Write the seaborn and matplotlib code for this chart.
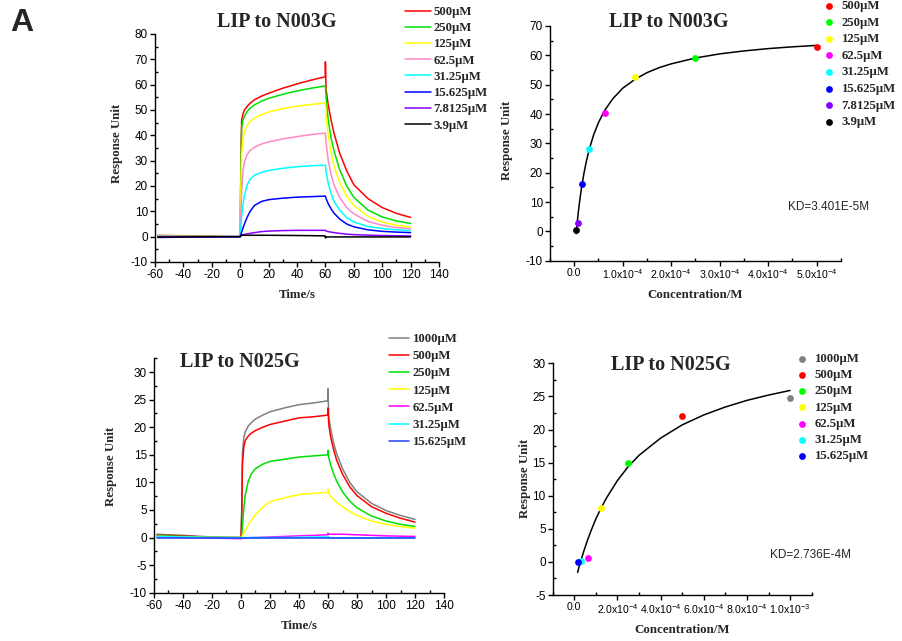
import numpy as np
import pandas as pd
import matplotlib
matplotlib.use("Agg")
import matplotlib.pyplot as plt
import seaborn as sns
from matplotlib.ticker import MultipleLocator

# ---------------- data ----------------
# sensorgram time grid (s)
time_s = [-58, -40, -20, -1, 0, 0.5, 1, 2, 3, 5, 7, 10, 15, 20, 30, 40, 50,
          59.9, 60, 60.5, 62, 64, 66, 70, 75, 80, 90, 100, 110, 120]

# LIP to N003G sensorgram
n003_labels = ['500µM', '250µM', '125µM', '62.5µM', '31.25µM', '15.625µM', '7.8125µM', '3.9µM']
n003_colors = ['#ff0000', '#00e000', '#ffff00', '#ff88c8', '#00ffff', '#0000ff', '#8800ff', '#000000']
n003_500 = [0.5, 0.35, 0.1, 0, 0, 30, 46, 48.5, 50, 51.5, 52.7, 54, 55.5, 56.6, 58.6, 60.3, 61.8,
            63.1, 69, 58, 52, 46, 41, 33, 26, 20.5, 15, 11.5, 9.2, 7.6]
n003_250 = [0.3, 0.2, 0.05, 0, 0, 25, 43, 46, 47.5, 49.5, 50.7, 52, 53.5, 54.6, 56.2, 57.5, 58.6,
            59.5, 59.5, 55, 46, 39, 34, 26.5, 20, 15.5, 10.5, 7.8, 6.2, 5.2]
n003_125 = [0.2, 0.1, 0, 0, 0, 20, 33, 39, 41.5, 44, 45.5, 46.8, 48.2, 49.2, 50.6, 51.5, 52.2,
            52.8, 52.8, 48, 40, 33, 28, 21.5, 16, 12.3, 8, 5.8, 4.5, 3.7]
n003_62 = [0.1, 0.1, 0, 0, 0, 10, 18, 26, 29.5, 32.5, 34, 35.3, 36.6, 37.4, 38.6, 39.5, 40.3,
           40.9, 40.9, 37, 30, 24.5, 20.5, 15.5, 11.5, 9, 6, 4.5, 3.6, 3.1]
n003_31 = [0.1, 0, 0, 0, 0, 4, 8, 13, 16.5, 20.5, 22.7, 24.2, 25.4, 26.1, 27, 27.6, 28,
           28.2, 28.2, 25.5, 21, 17, 14, 10.5, 7.5, 5.8, 4, 3.2, 2.7, 2.4]
n003_15 = [-0.3, -0.2, -0.1, 0, 0, 0.8, 1.8, 3.5, 5, 7.8, 10, 12.3, 13.9, 14.6, 15.2, 15.6, 15.8,
           16, 16, 15, 13, 11, 9.3, 7, 5, 3.9, 2.7, 2.1, 1.8, 1.6]
n003_7 = [0, 0, 0, 0, 0, 0.6, 0.7, 0.8, 0.9, 1.1, 1.3, 1.6, 2.0, 2.2, 2.4, 2.5, 2.5,
          2.5, 2.5, 2.2, 2.0, 1.8, 1.6, 1.3, 1.0, 0.8, 0.6, 0.45, 0.35, 0.3]
n003_3 = [-0.2, -0.1, 0, 0, 0, 0.5, 0.5, 0.55, 0.55, 0.55, 0.55, 0.55, 0.55, 0.55, 0.5, 0.45, 0.4,
          0.3, -0.5, -0.1, -0.1, -0.1, -0.1, -0.1, -0.1, -0.1, -0.1, -0.1, -0.1, -0.1]

# LIP to N025G sensorgram
n025_labels = ['1000µM', '500µM', '250µM', '125µM', '62.5µM', '31.25µM', '15.625µM']
n025_colors = ['#808080', '#ff0000', '#00e000', '#ffff00', '#ff00ff', '#00ffff', '#2040ff']
n025_1000 = [0.6, 0.4, 0.1, 0, 0, 5, 15.5, 18.2, 19.2, 20.2, 20.8, 21.5, 22.2, 22.8, 23.5, 24.1, 24.4,
             24.8, 27, 22, 19.5, 17, 15.2, 12.5, 10, 8.3, 6.2, 4.9, 4, 3.3]
n025_500 = [0.4, 0.3, 0, 0, 0, 4, 13.5, 16.5, 17.6, 18.4, 18.9, 19.4, 20.0, 20.5, 21.1, 21.7, 21.9,
            22.2, 23.5, 20.5, 18, 15.8, 14, 11.5, 9.2, 7.6, 5.6, 4.4, 3.5, 2.8]
n025_250 = [0.3, 0.2, 0, 0, 0, 0.5, 2, 5.5, 7.8, 10.2, 11.5, 12.5, 13.3, 13.8, 14.2, 14.6, 14.8,
            15, 15.8, 14.5, 13, 11.5, 10.2, 8.3, 6.6, 5.4, 3.9, 3.0, 2.4, 2.0]
n025_125 = [0.2, 0.1, 0, 0, 0, 0, 0.3, 0.8, 1.3, 2.3, 3.1, 4.2, 5.5, 6.5, 7.2, 7.8, 8.0,
            8.2, 8.8, 8.0, 7.4, 6.9, 6.4, 5.6, 4.7, 4.0, 3.0, 2.4, 2.0, 1.7]
n025_62 = [0.1, 0, -0.1, -0.2, -0.2, -0.2, -0.15, -0.1, -0.1, -0.05, 0, 0, 0.05, 0.1, 0.2, 0.3, 0.4,
           0.5, 0.8, 0.6, 0.6, 0.6, 0.6, 0.6, 0.55, 0.5, 0.4, 0.3, 0.25, 0.2]
n025_31 = [0.2, 0.1, 0, 0, 0, 0, 0, 0, 0, 0, 0, 0, 0, 0, 0, 0.05, 0.1,
           0.1, 0.3, 0, -0.05, -0.05, -0.05, -0.05, -0.05, -0.05, -0.05, -0.05, -0.05, -0.05]
n025_15 = [-0.1, -0.1, -0.1, -0.1, -0.1, -0.1, -0.1, -0.1, -0.1, -0.1, -0.1, -0.1, -0.1, -0.1, -0.1, -0.1, -0.1,
           -0.1, -0.1, -0.1, -0.1, -0.1, -0.1, -0.1, -0.1, -0.1, -0.1, -0.1, -0.1, -0.1]

# steady-state points and fitted curves (concentration in M)
n003_conc = [5e-4, 2.5e-4, 1.25e-4, 6.25e-5, 3.125e-5, 1.5625e-5, 7.8125e-6, 3.9e-6]
n003_resp = [62.8, 59.2, 52.7, 40.5, 28.0, 16.0, 2.7, 0.3]
n003_dot_colors = ['#ff0000', '#00ff00', '#ffff00', '#ff00ff', '#00ffff', '#0000ff', '#8800ff', '#000000']
n003_fit_c = [3.9e-6, 6e-6, 8e-6, 1e-5, 1.25e-5, 1.56e-5, 2e-5, 2.5e-5, 3.125e-5, 4e-5, 5e-5,
              6.25e-5, 8e-5, 1e-4, 1.25e-4, 1.5e-4, 1.75e-4, 2e-4, 2.5e-4, 3e-4, 3.5e-4, 4e-4,
              4.5e-4, 5e-4]
n003_fit_r = [-0.8, 2.9, 6.0, 8.8, 12.0, 15.5, 19.8, 23.9, 28.2, 32.9, 37.1, 41.2, 45.3, 48.8,
              51.8, 54.1, 55.8, 57.1, 59.1, 60.5, 61.5, 62.3, 62.9, 63.4]

n025_conc = [1e-3, 5e-4, 2.5e-4, 1.25e-4, 6.25e-5, 3.125e-5, 1.5625e-5]
n025_resp = [24.7, 22.1, 14.9, 8.1, 0.6, 0.1, 0.0]
n025_dot_colors = ['#808080', '#ff0000', '#00ff00', '#ffff00', '#ff00ff', '#00ffff', '#0000ff']
n025_fit_c = [1.56e-5, 2e-5, 3e-5, 4e-5, 5e-5, 6.25e-5, 8e-5, 1e-4, 1.25e-4, 1.5e-4, 2e-4, 2.5e-4,
              3e-4, 4e-4, 5e-4, 6e-4, 7e-4, 8e-4, 9e-4, 1e-3]
n025_fit_r = [-1.6, -1.0, 0.1, 1.2, 2.2, 3.4, 4.9, 6.5, 8.2, 9.7, 12.3, 14.4, 16.1, 18.7, 20.7,
              22.2, 23.4, 24.4, 25.2, 25.9]

# ---------------- style ----------------
sns.set_style("ticks")
plt.rcParams['font.family'] = ['Liberation Sans', 'DejaVu Sans']
plt.rcParams['mathtext.default'] = 'regular'
plt.rcParams['axes.unicode_minus'] = False

SERIF = 'Liberation Serif'
label_font = dict(family=SERIF, weight='bold', size=9.3)
legend_font = {'family': SERIF, 'weight': 'bold', 'size': 9.2}

fig = plt.figure(figsize=(9.03, 6.41), dpi=100)
W, H = 903, 641


def add_axes(left, top, right, bottom):
    return fig.add_axes([left / W, 1 - bottom / H, (right - left) / W, (bottom - top) / H])


ax1 = add_axes(155, 34, 439, 262)
ax2 = add_axes(550, 26, 841, 260.7)
ax3 = add_axes(154, 358.3, 444, 592.7)
ax4 = add_axes(552.7, 363.3, 811.7, 595)


def style_axis(ax):
    sns.despine(ax=ax)
    for s in ['left', 'bottom']:
        ax.spines[s].set_linewidth(1.0)
        ax.spines[s].set_color('black')
    ax.tick_params(which='major', direction='out', length=3.5, width=1.0, labelsize=8.5,
                   colors='black', pad=1.5)
    ax.tick_params(which='minor', direction='in', length=2.5, width=1.0, colors='black')
    ax.grid(False)


def sensorgram(ax, series, labels, colors):
    for vals, lab, col in zip(series, labels, colors):
        sns.lineplot(x=time_s, y=vals, color=col, lw=1.1, label=lab, ax=ax,
                     sort=False, estimator=None)
    ax.set_xlim(-60, 140)
    ax.set_xticks(range(-60, 141, 20))
    ax.xaxis.set_minor_locator(MultipleLocator(10))
    ax.set_xlabel('Time/s', fontdict=label_font)
    ax.set_ylabel('Response Unit', fontdict=label_font)
    style_axis(ax)


def binding(ax, conc, resp, dot_colors, labels, fit_c, fit_r):
    sns.lineplot(x=fit_c, y=fit_r, color='black', lw=1.1, ax=ax, sort=False, estimator=None)
    for c, r, col, lab in zip(conc, resp, dot_colors, labels):
        sns.scatterplot(x=[c], y=[r], color=col, s=24, linewidth=0, ax=ax, label=lab, zorder=3)
    ax.set_xlabel('Concentration/M', fontdict=label_font)
    ax.set_ylabel('Response Unit', fontdict=label_font)
    style_axis(ax)
    ax.tick_params(axis='x', which='major', labelsize=7.6)


def place_legend(ax, x_px, y_px, handlelength, textpad, spacing):
    h, l = ax.get_legend_handles_labels()
    ax.legend(h, l, loc='upper left', bbox_to_anchor=(x_px / W, 1 - y_px / H),
              bbox_transform=fig.transFigure, frameon=False, prop=legend_font,
              handlelength=handlelength, handletextpad=textpad, labelspacing=spacing,
              borderpad=0, borderaxespad=0)


# ---- panel 1 ----
sensorgram(ax1, [n003_500, n003_250, n003_125, n003_62, n003_31, n003_15, n003_7, n003_3],
           n003_labels, n003_colors)
ax1.set_ylim(-10, 80)
ax1.set_yticks(range(-10, 81, 10))
ax1.yaxis.set_minor_locator(MultipleLocator(5))
ax1.text(0.428, 1.054, 'LIP to N003G', transform=ax1.transAxes, ha='center', va='center',
         family=SERIF, weight='bold', size=14.5)
ax1.yaxis.set_label_coords(-0.112, 0.52)
ax1.xaxis.set_label_coords(0.5, -0.118)
place_legend(ax1, 405, 6, 2.0, 0.25, 0.33)

# ---- panel 2 ----
binding(ax2, n003_conc, n003_resp, n003_dot_colors, n003_labels, n003_fit_c, n003_fit_r)
ax2.set_xlim(-0.5e-4, 5.5e-4)
ax2.set_xticks([0, 1e-4, 2e-4, 3e-4, 4e-4, 5e-4],
               ['0.0'] + [f'{v:.1f}x10$^{{-4}}$' for v in [1, 2, 3, 4, 5]])
ax2.xaxis.set_minor_locator(MultipleLocator(0.5e-4))
ax2.set_ylim(-10, 70)
ax2.set_yticks(range(-10, 71, 10))
ax2.yaxis.set_minor_locator(MultipleLocator(5))
ax2.text(0.409, 1.018, 'LIP to N003G', transform=ax2.transAxes, ha='center', va='center',
         family=SERIF, weight='bold', size=14.5)
ax2.text(788 / W, 1 - 207 / H, 'KD=3.401E-5M', transform=fig.transFigure, size=8.5, va='center')
ax2.yaxis.set_label_coords(-0.127, 0.514)
ax2.xaxis.set_label_coords(0.5, -0.12)
place_legend(ax2, 825, 0, 0.7, 0.6, 0.36)

# ---- panel 3 ----
sensorgram(ax3, [n025_1000, n025_500, n025_250, n025_125, n025_62, n025_31, n025_15],
           n025_labels, n025_colors)
ax3.set_ylim(-10, 32.5)
ax3.set_yticks(range(-10, 31, 5))
ax3.yaxis.set_minor_locator(MultipleLocator(2.5))
ax3.text(0.297, 0.985, 'LIP to N025G', transform=ax3.transAxes, ha='center', va='center',
         family=SERIF, weight='bold', size=14.5)
ax3.yaxis.set_label_coords(-0.128, 0.537)
ax3.xaxis.set_label_coords(0.5, -0.116)
place_legend(ax3, 389, 333, 1.6, 0.25, 0.41)

# ---- panel 4 ----
binding(ax4, n025_conc, n025_resp, n025_dot_colors, n025_labels, n025_fit_c, n025_fit_r)
ax4.set_xlim(-1e-4, 1.1e-3)
ax4.set_xticks([0, 2e-4, 4e-4, 6e-4, 8e-4, 1e-3],
               ['0.0'] + [f'{v:.1f}x10$^{{-4}}$' for v in [2, 4, 6, 8]] + ['1.0x10$^{-3}$'])
ax4.xaxis.set_minor_locator(MultipleLocator(1e-4))
ax4.set_ylim(-5, 30)
ax4.set_yticks(range(-5, 31, 5))
ax4.yaxis.set_minor_locator(MultipleLocator(2.5))
ax4.text(0.456, 0.993, 'LIP to N025G', transform=ax4.transAxes, ha='center', va='center',
         family=SERIF, weight='bold', size=14.5)
ax4.text(770 / W, 1 - 555 / H, 'KD=2.736E-4M', transform=fig.transFigure, size=8.5, va='center')
ax4.yaxis.set_label_coords(-0.084, 0.504)
ax4.xaxis.set_label_coords(0.5, -0.125)
place_legend(ax4, 798, 353, 0.7, 0.6, 0.33)

fig.text(10 / W, 1 - 23 / H, 'A', size=23, weight='bold', va='center', ha='left')

fig.savefig('out.png', dpi=100)
